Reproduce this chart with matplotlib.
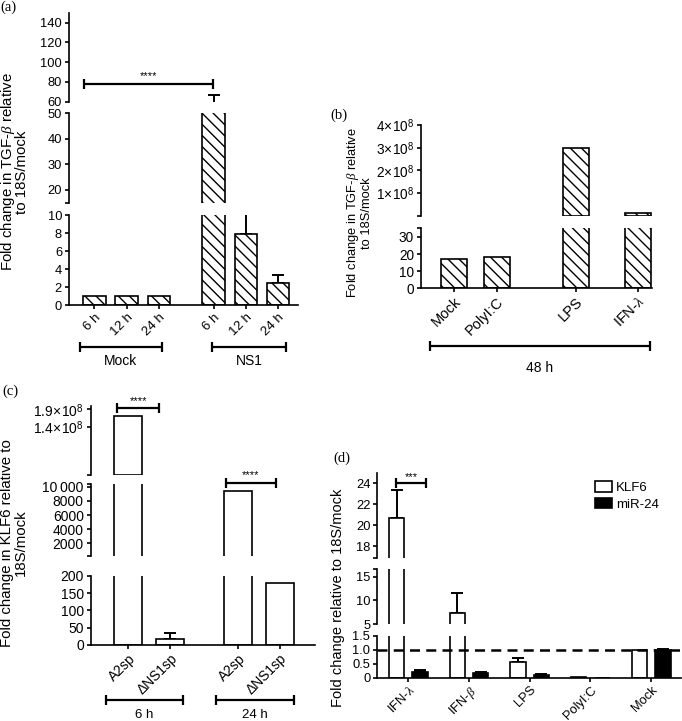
import matplotlib
matplotlib.use("Agg")
import matplotlib.pyplot as plt
from matplotlib.patches import Patch
from matplotlib.transforms import blended_transform_factory

FIG_W, FIG_H, DPI = 682, 721, 100

plt.rcParams.update(
    {
        "font.family": ["Liberation Sans", "DejaVu Sans"],
        "font.size": 10,
        "mathtext.fontset": "custom",
        "mathtext.rm": "Liberation Sans",
        "mathtext.it": "Liberation Serif:italic",
        "mathtext.bf": "Liberation Sans:bold",
        "hatch.linewidth": 1.0,
        "axes.linewidth": 1.2,
        "xtick.major.width": 1.2,
        "ytick.major.width": 1.2,
        "ytick.minor.width": 1.2,
        "xtick.major.size": 3,
        "ytick.major.size": 3,
        "ytick.minor.size": 3,
    }
)

# (a) TGF-beta, mock vs NS1 transfection
a_labels = ["6 h", "12 h", "24 h", "6 h", "12 h", "24 h"]
a_values = [1.0, 1.0, 1.0, 57.0, 7.9, 2.5]
a_errors = [0.0, 0.0, 0.0, 10.0, 2.5, 0.8]
a_groups = ["Mock", "NS1"]

# (b) TGF-beta after stimulation, 48 h
b_labels = ["Mock", "PolyI:C", "LPS", r"IFN-$\lambda$"]
b_values = [17.0, 18.5, 3.0e8, 1.3e7]
b_group = "48 h"

# (c) KLF6 after infection
c_labels = ["A2sp", "ΔNS1sp", "A2sp", "ΔNS1sp"]
c_values = [1.72e8, 17.0, 9400.0, 180.0]
c_errors = [0.0, 17.0, 0.0, 0.0]
c_groups = ["6 h", "24 h"]

# (d) KLF6 and miR-24 after stimulation
d_labels = [r"IFN-$\lambda$", r"IFN-$\beta$", "LPS", "PolyI:C", "Mock"]
d_klf6 = [20.7, 7.4, 0.55, 0.02, 1.0]
d_klf6_err = [2.7, 4.1, 0.17, 0.0, 0.0]
d_mir24 = [0.22, 0.17, 0.10, 0.005, 1.0]
d_mir24_err = [0.04, 0.04, 0.03, 0.0, 0.02]

HATCHED = dict(facecolor="white", edgecolor="black", linewidth=1.2, hatch="\\\\\\")
OPEN = dict(facecolor="white", edgecolor="black", linewidth=1.2)
FILLED = dict(facecolor="black", edgecolor="black", linewidth=1.2)


def px_axes(fig, left, top, right, bottom):
    return fig.add_axes(
        [left / FIG_W, 1 - bottom / FIG_H, (right - left) / FIG_W, (bottom - top) / FIG_H]
    )


def broken_axes(fig, left, right, xlim, segments, fs=10):
    """Stack axes segments (top to bottom) that share one x range."""
    axes = []
    for i, (ymin, ymax, top, bottom, ticks, labels) in enumerate(segments):
        ax = px_axes(fig, left, top, right, bottom)
        ax.set_xlim(*xlim)
        ax.set_ylim(ymin, ymax)
        ax.patch.set_alpha(0)
        ax.spines["top"].set_visible(False)
        ax.spines["right"].set_visible(False)
        ax.set_yticks(ticks, labels)
        ends = []
        if i > 0:
            ends.append(ymax)
        if i < len(segments) - 1:
            ends.append(ymin)
        ax.set_yticks([e for e in ends if e not in ticks], minor=True)
        last = i == len(segments) - 1
        ax.spines["bottom"].set_visible(last)
        if not last:
            ax.tick_params(axis="x", bottom=False, labelbottom=False)
        ax.tick_params(axis="y", which="both", direction="out", pad=2, labelsize=fs)
        axes.append(ax)
    return axes


def draw_bars(axes, x, values, errors, width, style):
    for k, ax in enumerate(axes):
        ymin, ymax = ax.get_ylim()
        # in upper segments skip marks that end just at the segment floor
        floor = ymin + 0.015 * (ymax - ymin) if k < len(axes) - 1 else ymin
        keep = [i for i, v in enumerate(values) if v > floor]
        ax.bar([x[i] for i in keep], [values[i] for i in keep], width, zorder=2, **style)
        if errors is None:
            continue
        idx = [i for i, e in enumerate(errors) if e > 0 and values[i] + e > floor]
        if not idx:
            continue
        ax.errorbar([x[i] for i in idx], [values[i] for i in idx],
                    yerr=[[0] * len(idx), [errors[i] for i in idx]], fmt="none",
                    ecolor="black", elinewidth=1.4, capsize=4, capthick=1.4, zorder=1)


def bracket(ax, x0, x1, y, transform=None, lw=1.6, size=7):
    ax.plot([x0, x1], [y, y], color="black", lw=lw, marker="|", markersize=size,
            mew=lw, transform=transform or ax.transData, clip_on=False,
            solid_capstyle="butt")


def group_brackets(ax, spans, labels, y_line, y_text, va="center", fs=10):
    tr = blended_transform_factory(ax.transData, ax.transAxes)
    for (x0, x1), label in zip(spans, labels):
        bracket(ax, x0, x1, y_line, transform=tr)
        ax.text((x0 + x1) / 2, y_text, label, transform=tr, ha="center", va=va,
                fontsize=fs)


def xlabels(ax, pos, labels, fs=10):
    ax.set_xticks(pos, labels, rotation=45, ha="right", rotation_mode="anchor")
    ax.tick_params(axis="x", direction="out", length=3, pad=1.5, labelsize=fs)


def sci(v):
    return rf"${v / 1e8:g}\!\times\!10^{{8}}$"


fig = plt.figure(figsize=(FIG_W / DPI, FIG_H / DPI), dpi=DPI)

# ---------------- (a) ----------------
a_pos = [0, 1, 2, 3.7, 4.7, 5.7]
a_axes = broken_axes(
    fig, 69, 298, (-0.79, 6.32),
    [
        (60, 150, 12.7, 101.7, [60, 80, 100, 120, 140], ["60", "80", "100", "120", "140"]),
        (15, 50, 113, 202.8, [20, 30, 40, 50], ["20", "30", "40", "50"]),
        (0, 10, 215, 305, [0, 2, 4, 6, 8, 10], ["0", "2", "4", "6", "8", "10"]),
    ],
    fs=9.3,
)
draw_bars(a_axes, a_pos, a_values, a_errors, 0.7, HATCHED)
xlabels(a_axes[-1], a_pos, a_labels, fs=9.5)
bracket(a_axes[0], -0.33, 3.68, 78)
a_axes[0].text(1.67, 81, "****", ha="center", va="bottom", fontsize=8)
group_brackets(a_axes[-1], [(-0.45, 2.09), (3.64, 5.95)], a_groups, -0.463, -0.62)

# ---------------- (b) ----------------
b_pos = [0, 1, 2.86, 4.31]
b_axes = broken_axes(
    fig, 421, 652, (-0.77, 4.64),
    [
        (0, 4e8, 125, 215.7, [1e8, 2e8, 3e8, 4e8], [sci(v) for v in [1e8, 2e8, 3e8, 4e8]]),
        (0, 35, 228.4, 288.3, [0, 10, 20, 30], ["0", "10", "20", "30"]),
    ],
    fs=9.8,
)
draw_bars(b_axes, b_pos, b_values, None, 0.61, HATCHED)
xlabels(b_axes[-1], b_pos, b_labels, fs=10.5)
group_brackets(b_axes[-1], [(-0.56, 4.59)], [b_group], -0.963, -1.33)

# ---------------- (c) ----------------
c_pos = [0, 1, 2.62, 3.61]
c_axes = broken_axes(
    fig, 90.7, 315, (-0.89, 4.45),
    [
        (0, 2e8, 406, 475, [1.4e8, 1.9e8], [sci(1.4e8), sci(1.9e8)]),
        (200, 10400, 484, 556, [2000, 4000, 6000, 8000, 10000],
         ["2000", "4000", "6000", "8000", "10\u2009000"]),
        (0, 200, 575.7, 645, [0, 50, 100, 150, 200], ["0", "50", "100", "150", "200"]),
    ],
)
draw_bars(c_axes, c_pos, c_values, c_errors, 0.67, OPEN)
xlabels(c_axes[-1], c_pos, c_labels, fs=10)
bracket(c_axes[0], -0.26, 0.74, 1.94e8)
c_axes[0].text(0.24, 1.99e8, "****", ha="center", va="bottom", fontsize=8)
bracket(c_axes[1], 2.33, 3.52, 10570)
c_axes[1].text(2.92, 10900, "****", ha="center", va="bottom", fontsize=8)
group_brackets(c_axes[-1], [(-0.52, 1.31), (2.1, 3.95)], c_groups, -0.794,
               (645 - 720.5) / 69.3, va="bottom", fs=9.5)

# ---------------- (d) ----------------
d_pos = list(range(len(d_labels)))
d_axes = broken_axes(
    fig, 377.3, 681, (-0.51, 4.49),
    [
        (16.85, 25, 472.7, 558.3, [18, 20, 22, 24], ["18", "20", "22", "24"]),
        (5, 16.6, 569, 624.3, [5, 10, 15], ["5", "10", "15"]),
        (0, 1.5, 635.7, 677.7, [0, 0.5, 1.0, 1.5], ["0", "0.5", "1.0", "1.5"]),
    ],
    fs=9.3,
)
draw_bars(d_axes, [p - 0.193 for p in d_pos], d_klf6, d_klf6_err, 0.25, OPEN)
draw_bars(d_axes, [p + 0.193 for p in d_pos], d_mir24, d_mir24_err, 0.25, FILLED)
xlabels(d_axes[-1], d_pos, d_labels, fs=9.3)
d_axes[-1].axhline(1.0, color="black", lw=1.8, ls=(0, (4, 2.5)), zorder=3)
bracket(d_axes[0], -0.2, 0.29, 24)
d_axes[0].text(0.045, 24.15, "***", ha="center", va="bottom", fontsize=8)
fig.legend(
    handles=[Patch(label="KLF6", **OPEN), Patch(label="miR-24", **FILLED)],
    loc="upper left", bbox_to_anchor=(595 / FIG_W, 1 - 481 / FIG_H),
    frameon=False, handlelength=1.3, handleheight=0.85, handletextpad=0.3,
    labelspacing=0.3, fontsize=9.5, borderaxespad=0, borderpad=0,
)

# ---------------- titles and panel letters ----------------
def ylabel(x, y, text, fs=10.5, ls=0.95):
    fig.text(x / FIG_W, 1 - y / FIG_H, text, rotation=90, ha="center", va="center",
             multialignment="center", fontsize=fs, linespacing=ls)


ylabel(14, 172, "Fold change in TGF-$\\beta$ relative\nto 18S/mock", fs=10.8, ls=0.9)
ylabel(359, 213, "Fold change in TGF-$\\beta$ relative\nto 18S/mock", fs=9.3, ls=0.95)
ylabel(14, 543, "Fold change in KLF6 relative to\n18S/mock", fs=10.8, ls=1.0)
ylabel(338, 598, "Fold change relative to 18S/mock", fs=10.5)

for x, y, letter in [(0, 7, "(a)"), (330, 115, "(b)"), (2, 391, "(c)"), (333, 458, "(d)")]:
    fig.text(x / FIG_W, 1 - y / FIG_H, letter, family="Liberation Serif", fontsize=10.5,
             ha="left", va="center")

fig.savefig("out.png", dpi=DPI)
